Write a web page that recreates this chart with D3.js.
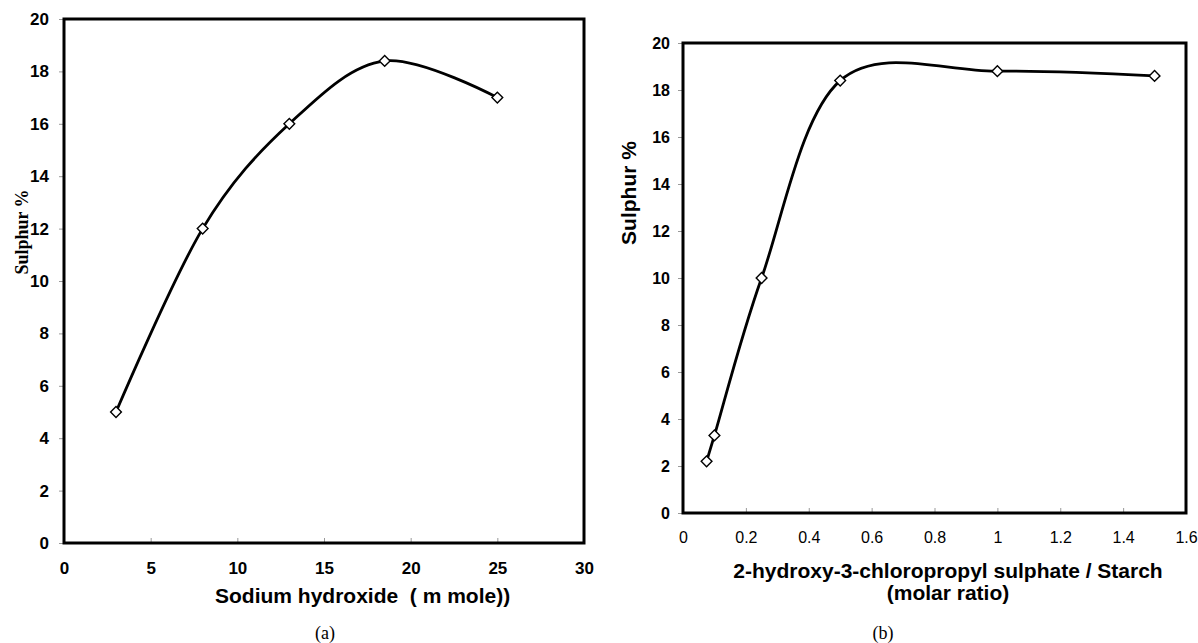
<!DOCTYPE html>
<html>
<head>
<meta charset="utf-8">
<title>Sulphur %</title>
<script src="https://cdn.jsdelivr.net/npm/d3@7"></script>
<style>
  body { margin: 0; background: #fff; }
  svg text { fill: #000; }
</style>
</head>
<body>
<div id="content"></div>
<script>
// chart (a)
var naohX = [3, 8, 13, 18.5, 25],
    naohY = [5, 12, 16, 18.4, 17],
    aXTicks = [0, 5, 10, 15, 20, 25, 30],
    aYTicks = [0, 2, 4, 6, 8, 10, 12, 14, 16, 18, 20];

// chart (b)
var ratioX = [0.075, 0.1, 0.25, 0.5, 1.0, 1.5],
    ratioY = [2.2, 3.3, 10, 18.4, 18.8, 18.6],
    bXTicks = [0, 0.2, 0.4, 0.6, 0.8, 1, 1.2, 1.4, 1.6],
    bYTicks = [0, 2, 4, 6, 8, 10, 12, 14, 16, 18, 20];

var W = 1198, H = 643,
    sans = "Liberation Sans, Arial, sans-serif",
    serif = "Liberation Serif, Times New Roman, serif";

var svg = d3.select('#content').append('svg')
    .attr('width', W).attr('height', H);

function drawPanel(o) {
    var x = d3.scaleLinear().domain(o.xDomain).range([o.left, o.right]);
    var y = d3.scaleLinear().domain(o.yDomain).range([o.bottom, o.top]);
    var g = svg.append('g');

    // x axis: ticks point up into the plot
    var xa = g.append('g')
        .attr('transform', 'translate(0,' + o.bottom + ')')
        .call(d3.axisBottom(x).tickValues(o.xTicks).tickSize(-5).tickPadding(0)
            .tickFormat(function(d) { return d3.format('')(d); }));
    xa.select('.domain').remove();
    xa.selectAll('line').attr('stroke', '#999').attr('stroke-width', 1);
    xa.selectAll('text')
        .attr('y', o.xLabelY - o.bottom).attr('dy', 0)
        .attr('font-family', sans).attr('font-size', o.xTickSize)
        .attr('font-weight', o.xTickWeight);

    // y axis: ticks outside
    var ya = g.append('g')
        .attr('transform', 'translate(' + o.left + ',0)')
        .call(d3.axisLeft(y).tickValues(o.yTicks).tickSize(5).tickPadding(o.yPad));
    ya.select('.domain').remove();
    ya.selectAll('line').attr('stroke', '#999').attr('stroke-width', 1);
    ya.selectAll('text')
        .attr('font-family', sans).attr('font-size', o.yTickSize)
        .attr('font-weight', 'bold');

    // frame
    g.append('rect')
        .attr('x', o.left).attr('y', o.top)
        .attr('width', o.right - o.left).attr('height', o.bottom - o.top)
        .attr('fill', 'none').attr('stroke', '#000').attr('stroke-width', 3);

    var pts = o.xs.map(function(v, i) { return [v, o.ys[i]]; });

    var line = d3.line()
        .x(function(d) { return x(d[0]); })
        .y(function(d) { return y(d[1]); })
        .curve(d3.curveCardinal.tension(0));

    g.append('path')
        .datum(pts)
        .attr('d', line)
        .attr('fill', 'none').attr('stroke', '#000').attr('stroke-width', 2.8);

    g.selectAll('.pt')
        .data(pts)
        .enter()
        .append('path')
        .attr('class', 'pt')
        .attr('d', d3.symbol().type(d3.symbolSquare).size(58))
        .attr('transform', function(d) {
            return 'translate(' + x(d[0]) + ',' + y(d[1]) + ') rotate(45)';
        })
        .attr('fill', '#fff').attr('stroke', '#000').attr('stroke-width', 1.4);
}

drawPanel({
    xs: naohX, ys: naohY, xTicks: aXTicks, yTicks: aYTicks,
    xDomain: [0, 30], yDomain: [0, 20],
    left: 64, right: 584, top: 19, bottom: 543,
    xLabelY: 574, xTickSize: 17, xTickWeight: 'bold',
    yTickSize: 17, yPad: 10
});

drawPanel({
    xs: ratioX, ys: ratioY, xTicks: bXTicks, yTicks: bYTicks,
    xDomain: [0, 1.6], yDomain: [0, 20],
    left: 683, right: 1186, top: 43, bottom: 513,
    xLabelY: 543, xTickSize: 16, xTickWeight: 'normal',
    yTickSize: 16, yPad: 8
});

// titles
svg.append('text')
    .attr('transform', 'translate(28,232) rotate(-90)')
    .attr('text-anchor', 'middle')
    .attr('font-family', serif).attr('font-size', 18).attr('font-weight', 'bold')
    .text('Sulphur %');

svg.append('text')
    .attr('x', 215).attr('y', 603)
    .style('white-space', 'pre')
    .attr('font-family', sans).attr('font-size', 21).attr('font-weight', 'bold')
    .text('Sodium hydroxide  ( m mole))');

svg.append('text')
    .attr('transform', 'translate(636,193) rotate(-90)')
    .attr('text-anchor', 'middle')
    .attr('font-family', sans).attr('font-size', 21).attr('font-weight', 'bold')
    .text('Sulphur %');

svg.append('text')
    .attr('x', 948).attr('y', 578)
    .attr('text-anchor', 'middle')
    .attr('font-family', sans).attr('font-size', 21).attr('font-weight', 'bold')
    .text('2-hydroxy-3-chloropropyl sulphate / Starch');

svg.append('text')
    .attr('x', 948).attr('y', 600)
    .attr('text-anchor', 'middle')
    .attr('font-family', sans).attr('font-size', 21).attr('font-weight', 'bold')
    .text('(molar ratio)');

// captions
svg.append('text')
    .attr('x', 325).attr('y', 639)
    .attr('text-anchor', 'middle')
    .attr('font-family', serif).attr('font-size', 18)
    .text('(a)');

svg.append('text')
    .attr('x', 883).attr('y', 639)
    .attr('text-anchor', 'middle')
    .attr('font-family', serif).attr('font-size', 18)
    .text('(b)');
</script>
</body>
</html>
